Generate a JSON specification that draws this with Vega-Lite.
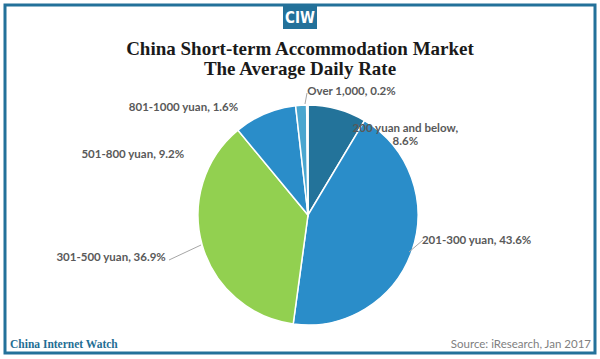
{
  "$schema": "https://vega.github.io/schema/vega-lite/v6.json",
  "width": 600,
  "height": 359,
  "autosize": {"type": "fit", "contains": "padding"},
  "padding": {"left": 3, "right": 3, "top": 3, "bottom": 4},
  "background": "#ffffff",
  "config": {"view": {"stroke": null}},
  "title": {
    "text": ["China Short-term Accommodation Market", "The Average Daily Rate"],
    "font": "Liberation Serif",
    "fontSize": 19,
    "fontWeight": "bold",
    "color": "#1a1a1a",
    "lineHeight": 20,
    "anchor": "middle",
    "offset": -75
  },
  "data": {
    "values": [
      {"order": 1, "category": "200 yuan and below", "label": "200 yuan and below,\n8.6%", "pct": 8.6},
      {"order": 2, "category": "201-300 yuan", "label": "201-300 yuan, 43.6%", "pct": 43.6},
      {"order": 3, "category": "301-500 yuan", "label": "301-500 yuan, 36.9%", "pct": 36.9},
      {"order": 4, "category": "501-800 yuan", "label": "501-800 yuan, 9.2%", "pct": 9.2},
      {"order": 5, "category": "801-1000 yuan", "label": "801-1000 yuan, 1.6%", "pct": 1.6},
      {"order": 6, "category": "Over 1,000", "label": "Over 1,000, 0.2%", "pct": 0.2}
    ]
  },
  "layer": [
    {
      "data": {"values": [{"frame": "border"}]},
      "mark": {"type": "rect", "fill": null, "stroke": "#23719a", "strokeWidth": 3},
      "encoding": {}
    },
    {
      "mark": {"type": "arc", "outerRadius": 110, "stroke": "#ffffff", "strokeWidth": 1.5,
               "x": {"expr": "width/2 + 8"}, "y": {"expr": "height/2 + 36"}},
      "encoding": {
        "theta": {"field": "pct", "type": "quantitative", "stack": true},
        "order": {"field": "order", "type": "quantitative"},
        "color": {
          "field": "category", "type": "nominal", "legend": null,
          "scale": {
            "domain": ["200 yuan and below", "201-300 yuan", "301-500 yuan", "501-800 yuan", "801-1000 yuan", "Over 1,000"],
            "range": ["#23739a", "#2a8dc9", "#92d050", "#2a8dc9", "#4aa6cf", "#4aa6cf"]
          }
        }
      }
    },
    {
      "transform": [{"filter": "datum.order == 2 || datum.order == 3 || datum.order == 6"}],
      "mark": {"type": "rule", "color": "#a6a6a6", "strokeWidth": 1},
      "encoding": {
        "x": {"value": {"expr": "width/2 + 8 + (datum.order == 2 ? 101 : datum.order == 3 ? -107 : -3)"}},
        "y": {"value": {"expr": "height/2 + 36 + (datum.order == 2 ? 37 : datum.order == 3 ? 30 : -111)"}},
        "x2": {"value": {"expr": "width/2 + 8 + (datum.order == 2 ? 115 : datum.order == 3 ? -139 : -1)"}},
        "y2": {"value": {"expr": "height/2 + 36 + (datum.order == 2 ? 25 : datum.order == 3 ? 45 : -122)"}}
      }
    },
    {
      "mark": {"type": "text", "radius": 125, "font": "Lato", "fontWeight": "bold", "fontSize": 11.5, "color": "#595959",
               "lineBreak": "\n", "lineHeight": 13,
               "x": {"expr": "width/2 + 8"}, "y": {"expr": "height/2 + 36"},
               "align": {"expr": "datum.order == 6 || datum.order == 2 ? 'left' : (datum.order == 1 ? 'center' : 'right')"},
               "baseline": "middle",
               "dx": {"expr": "[64, -4, -22, -75, -62, 0][datum.order - 1]"},
               "dy": {"expr": "[34, -15, 9, 55, 18, 2][datum.order - 1]"}},
      "encoding": {
        "theta": {"field": "pct", "type": "quantitative", "stack": true},
        "order": {"field": "order", "type": "quantitative"},
        "text": {"field": "label"}
      }
    },
    {
      "data": {"values": [{"logo": "CIW"}]},
      "mark": {"type": "point", "shape": "M-1,-0.7H1V0.7H-1Z", "size": 1156, "filled": true, "fill": "#23719a", "opacity": 1, "strokeWidth": 0,
               "x": {"expr": "width/2"}, "y": {"expr": "12"}},
      "encoding": {}
    },
    {
      "data": {"values": [{"logo": "CIW"}]},
      "mark": {"type": "text", "font": "'Liberation Sans Narrow', 'DejaVu Sans Condensed', 'Roboto Condensed', Roboto, sans-serif", "fontWeight": "bold", "fontSize": 15, "color": "#ffffff", "align": "center", "baseline": "middle",
               "x": {"expr": "width/2"}, "y": {"expr": "13"}},
      "encoding": {"text": {"field": "logo"}}
    },
    {
      "data": {"values": [{"note": "China Internet Watch"}]},
      "mark": {"type": "text", "font": "Liberation Serif", "fontWeight": "bold", "fontSize": 11.5, "color": "#1f6e94", "align": "left", "baseline": "alphabetic",
               "x": {"expr": "5"}, "y": {"expr": "height - 5"}},
      "encoding": {"text": {"field": "note"}}
    },
    {
      "data": {"values": [{"note": "Source: iResearch, Jan 2017"}]},
      "mark": {"type": "text", "font": "Lato", "fontSize": 11.5, "color": "#808080", "align": "right", "baseline": "alphabetic",
               "x": {"expr": "width - 4"}, "y": {"expr": "height - 5"}},
      "encoding": {"text": {"field": "note"}}
    }
  ]
}
